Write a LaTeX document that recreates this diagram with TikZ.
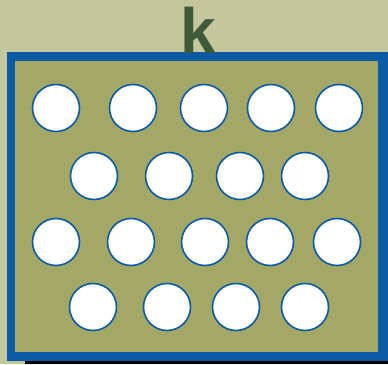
\documentclass[tikz,border=0pt]{standalone}
\usepackage{fontspec}
\setmainfont{Liberation Sans}
\definecolor{bgc}{HTML}{C4C79D}
\definecolor{innerc}{HTML}{A4A866}
\definecolor{bluec}{HTML}{0B5AA3}
\definecolor{kc}{HTML}{3F5A38}
\begin{document}
\begin{tikzpicture}[x=1pt,y=-1pt,
  hole/.style={circle,draw=bluec,line width=1.6pt,fill=white,minimum size=47pt,inner sep=0pt}]
\useasboundingbox (0,0) rectangle (388,364);
\fill[bgc] (0,0) rectangle (388,364);
\fill[black] (25,361) rectangle (388,364);
\fill[bluec] (7,52) rectangle (388,361);
\fill[innerc] (15,60.5) rectangle (378,352);
\node[anchor=base,text=kc,font=\bfseries\fontsize{64}{64}\selectfont,inner sep=0pt] (k) at (198,53) {k};
% row 1
\foreach \x [count=\i] in {56,133,204,271,339} \node[hole] (a\i) at (\x,108) {};
% row 2
\foreach \x [count=\i] in {94,169,240,305} \node[hole] (b\i) at (\x,176) {};
% row 3
\foreach \x [count=\i] in {56,131,205,270,337} \node[hole] (c\i) at (\x,242) {};
% row 4
\foreach \x [count=\i] in {93,167,236,305} \node[hole] (d\i) at (\x,307) {};
\end{tikzpicture}
\end{document}
